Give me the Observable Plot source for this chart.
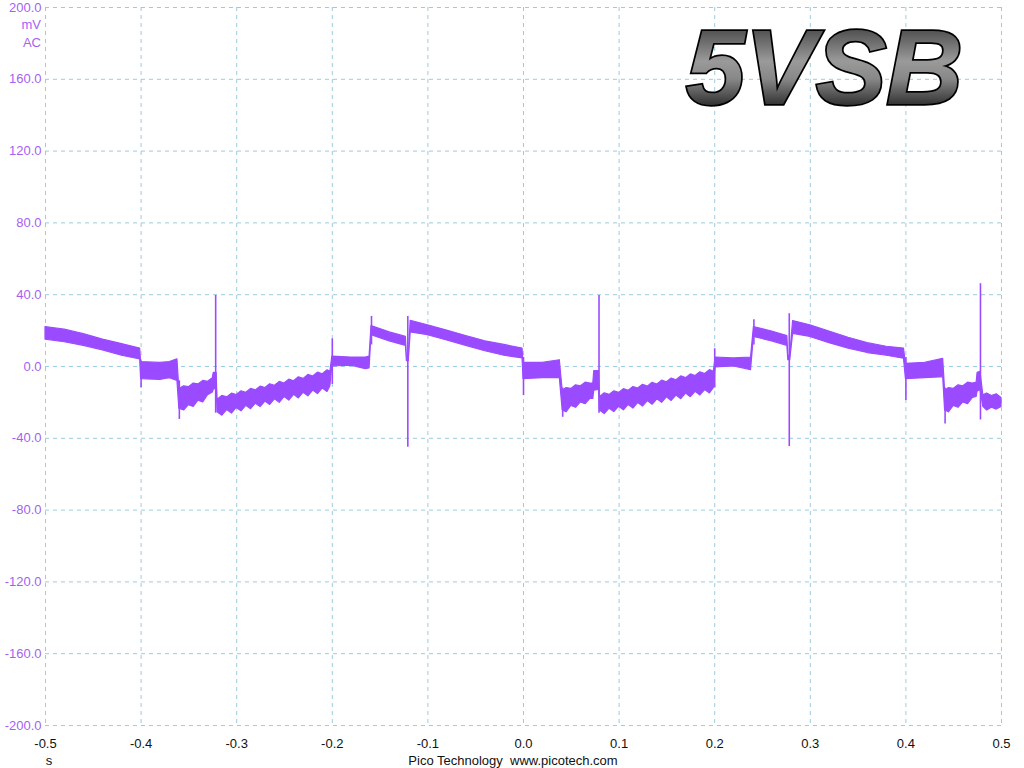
<!DOCTYPE html>
<html>
<head>
<meta charset="utf-8">
<script src="https://cdn.jsdelivr.net/npm/d3@7"></script>
<script src="https://cdn.jsdelivr.net/npm/@observablehq/plot@0.6"></script>
<style>
  html, body { margin: 0; padding: 0; background: #fff; }
  #chart { width: 1024px; height: 768px; position: relative; overflow: hidden; }
</style>
</head>
<body>
<div id="chart"></div>
<script>
// ---- tick values ----
const xTicks = [-0.5, -0.4, -0.3, -0.2, -0.1, 0.0, 0.1, 0.2, 0.3, 0.4, 0.5];
const yTicks = [200, 160, 120, 80, 40, 0, -40, -80, -120, -160, -200];

// ---- noise band of the trace (time in s, upper / lower edge in mV) ----
const bandT = [
  -0.5, -0.48, -0.46, -0.44, -0.42, -0.401,
  -0.4, -0.38, -0.37, -0.362,
  -0.36, -0.355, -0.35, -0.345, -0.34, -0.335, -0.33, -0.325, -0.324, -0.321,
  -0.32, -0.315, -0.31, -0.305, -0.3, -0.295, -0.29, -0.285, -0.28, -0.275, -0.27, -0.265,
  -0.26, -0.255, -0.25, -0.245, -0.24, -0.235, -0.23, -0.225, -0.22, -0.215, -0.21, -0.205, -0.202,
  -0.2, -0.18, -0.165, -0.161,
  -0.159, -0.14, -0.123, -0.122, -0.12,
  -0.118, -0.1, -0.08, -0.06, -0.04, -0.02, -0.001,
  0.0, 0.02, 0.038,
  0.041, 0.045, 0.05, 0.055, 0.06, 0.065, 0.07, 0.073, 0.074, 0.079,
  0.08, 0.085, 0.09, 0.095, 0.1, 0.105, 0.11, 0.115, 0.12, 0.125, 0.13, 0.135,
  0.14, 0.145, 0.15, 0.155, 0.16, 0.165, 0.17, 0.175, 0.18, 0.185, 0.19, 0.195, 0.199,
  0.201, 0.22, 0.238,
  0.241, 0.26, 0.276, 0.277, 0.279,
  0.282, 0.3, 0.32, 0.34, 0.36, 0.38, 0.398,
  0.4, 0.42, 0.439,
  0.441, 0.445, 0.45, 0.455, 0.46, 0.465, 0.47, 0.474, 0.475, 0.478,
  0.481, 0.485, 0.49, 0.495, 0.5
];
const bandHi = [
  22, 20.5, 18, 15, 12.5, 10,
  2.5, 2, 2.5, 4,
  -12.5, -11, -11.5, -9.5, -10, -8, -8.5, -6.5, -3.5, -3.5,
  -18.5, -16.4, -17.2, -15.1, -15.9, -13.8, -14.6, -12.5, -13.3, -11.2, -12, -9.9,
  -10.7, -8.6, -9.5, -7.3, -8.2, -6, -6.9, -4.7, -5.6, -3.4, -4.3, -2.1, -3,
  5.5, 5, 5, 5.5,
  22.5, 19, 16.5, 6, 6,
  25.5, 23, 20, 17, 14, 12, 10,
  2, 2, 3.5,
  -13.5, -12, -12.5, -10.5, -11, -9, -9.5, -9.5, -2.5, -2.5,
  -17, -14.9, -15.8, -13.8, -14.7, -12.6, -13.5, -11.4, -12.3, -10.2, -11.2, -9.1,
  -10, -7.9, -8.8, -6.7, -7.7, -5.5, -6.5, -4.4, -5.3, -3.2, -4.2, -2, -3,
  5, 4.5, 5,
  22, 19.5, 17, 6, 6,
  25.3, 23, 19.5, 16, 13, 11, 10,
  1.5, 2, 4.3,
  -13.5, -12, -12.5, -10.5, -11, -9, -9.5, -9, -3.5, -3,
  -16, -15, -16.5, -15.5, -17.5
];
const bandLo = [
  15, 13.5, 11.5, 9, 6, 4,
  -7, -7.5, -6.5, -8,
  -23.5, -24.5, -21.5, -22.5, -19, -20, -16, -14.5, -13, -12,
  -25.5, -27.4, -24.3, -26.2, -23.1, -25, -21.9, -23.8, -20.7, -22.6, -19.5, -21.4,
  -18.3, -20.2, -17, -19, -15.8, -17.8, -14.6, -16.6, -13.4, -15.4, -12.2, -14.2, -11,
  0, 0.5, -1.5, -1,
  17.5, 14, 11.5, 3, 3,
  19, 17.5, 14.5, 11.5, 8.5, 6, 4.5,
  -7, -6.5, -6.5,
  -24.5, -25.5, -22, -23, -20, -21, -18, -18, -13.5, -13,
  -24.5, -26.5, -23.5, -25.4, -22.4, -24.4, -21.4, -23.4, -20.3, -22.3, -19.3, -21.3,
  -18.3, -20.2, -17.2, -19.2, -16.2, -18.2, -15.1, -17.1, -14.1, -16.1, -13.1, -15, -12,
  -0.5, 0, -2,
  16.5, 14, 11.5, 3.5, 3.5,
  18.2, 16.5, 13, 10, 7.5, 6, 4.3,
  -7, -6.5, -6,
  -24.5, -25.5, -22, -23, -20, -21, -17.5, -17, -14, -13,
  -22.5, -24.5, -23, -24, -22.5
];

// ---- switching spikes (time in s, low / high end in mV) ----
const spikeT  = [-0.4, -0.36, -0.322, -0.2, -0.159, -0.121, 0.0, 0.041, 0.079, 0.2, 0.241, 0.278, 0.4, 0.441, 0.478];
const spikeLo = [-12, -29.5, -26, -10, 12, -45, -16.2, -28.3, -26, -12, 12, -44.6, -19, -32, -29.8];
const spikeHi = [3, -8, 39.6, 15.4, 27.9, 27.9, 5, -12, 39.6, 9.9, 26, 29.4, 5, -12, 46.1];

const band = bandT.map((t, i) => ({t, hi: bandHi[i], lo: bandLo[i]}));
const spikes = spikeT.map((t, i) => ({t, lo: spikeLo[i], hi: spikeHi[i]}));

const traceColor = "#9b4bff";
const labelColor = "#a55ff2";
const gridColor = "#9ccbe0";
const fmt = d => (Math.abs(d) < 1e-9 ? 0 : d).toFixed(1);

const plot = Plot.plot({
  width: 1024,
  height: 768,
  marginLeft: 45,
  marginRight: 23,
  marginTop: 7,
  marginBottom: 43,
  style: {fontFamily: "'Liberation Sans', Arial, sans-serif", fontSize: "13px", background: "#fff", overflow: "visible"},
  x: {domain: [-0.5, 0.5]},
  y: {domain: [-200, 200]},
  marks: [
    Plot.gridX(xTicks, {stroke: gridColor, strokeOpacity: 1, strokeDasharray: "4,4"}),
    Plot.gridY(yTicks, {stroke: gridColor, strokeOpacity: 1, strokeDasharray: "4,4"}),
    Plot.areaY(band, {x: "t", y1: "lo", y2: "hi", fill: traceColor, stroke: traceColor, strokeWidth: 1.2, curve: "linear"}),
    Plot.ruleX(spikes, {x: "t", y1: "lo", y2: "hi", stroke: traceColor, strokeWidth: 1.6}),
    Plot.axisX(xTicks, {tickSize: 0, tickPadding: 13, tickFormat: fmt, fill: "#111", label: null}),
    Plot.axisY(yTicks, {tickSize: 0, tickPadding: 4, tickFormat: fmt, fill: labelColor, label: null})
  ]
});

document.getElementById("chart").appendChild(plot);

const svg = d3.select(plot);
const defs = svg.append("defs");
const g = defs.append("linearGradient").attr("id", "chrome").attr("x1", 0).attr("y1", 0).attr("x2", 0).attr("y2", 1);
[["0%", "#111"], ["20%", "#555"], ["45%", "#9a9a9a"], ["60%", "#888"], ["82%", "#333"], ["100%", "#050505"]]
  .forEach(([o, c]) => g.append("stop").attr("offset", o).attr("stop-color", c));

const ann = svg.append("g").attr("font-family", "'Liberation Sans', Arial, sans-serif").attr("font-size", 13);
ann.append("text").attr("x", 41).attr("y", 29).attr("text-anchor", "end").attr("fill", labelColor).text("mV");
ann.append("text").attr("x", 41).attr("y", 47).attr("text-anchor", "end").attr("fill", labelColor).text("AC");
ann.append("text").attr("x", 49).attr("y", 765).attr("text-anchor", "middle").attr("fill", "#111").text("s");
ann.append("text").attr("x", 513).attr("y", 765).attr("text-anchor", "middle").attr("fill", "#111")
  .attr("xml:space", "preserve").style("white-space", "pre").text("Pico Technology  www.picotech.com");

svg.append("text")
  .attr("x", 686).attr("y", 104)
  .attr("text-anchor", "start")
  .attr("font-family", "'Liberation Sans', Arial, sans-serif")
  .attr("font-size", 106).attr("font-weight", "bold").attr("font-style", "italic")
  .attr("fill", "url(#chrome)").attr("stroke", "#000").attr("stroke-width", 3.5)
  .attr("paint-order", "stroke")
  .text("5VSB");
</script>
</body>
</html>
